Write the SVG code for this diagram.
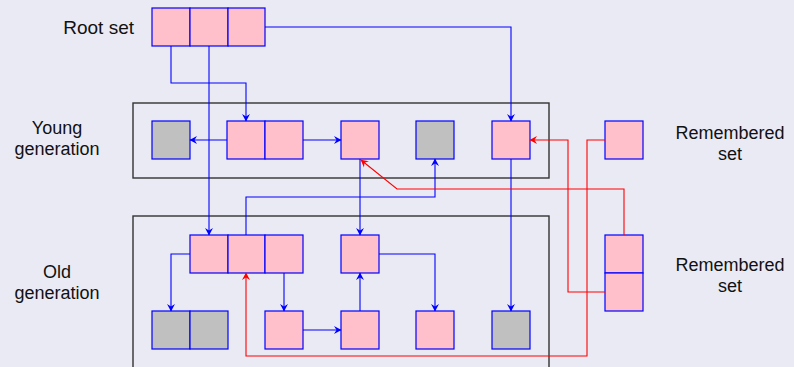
<svg xmlns="http://www.w3.org/2000/svg" width="794" height="367" viewBox="0 0 794 367">
<style>
.lbl{font-family:"Liberation Sans",Arial,sans-serif;font-size:18px;fill:#111;}
.p{fill:#ffc0cb;stroke:#0000ff;stroke-width:1.2;}
.g{fill:#c0c0c0;stroke:#0000ff;stroke-width:1.2;}
.frame{fill:none;stroke:#333;stroke-width:1.4;}
.b{fill:none;stroke:#0000ff;stroke-width:1.1;}
.r{fill:none;stroke:#ff0000;stroke-width:1.1;}
.b.a{marker-end:url(#ab);}
.r.a{marker-end:url(#ar);}
</style>
<defs>
<marker id="ab" viewBox="-8 -5 9 10" refX="0" refY="0" markerWidth="9" markerHeight="10" orient="auto" markerUnits="userSpaceOnUse"><path d="M0.5,0 L-7,-4 L-4.5,0 L-7,4 Z" fill="#0000ff"/></marker>
<marker id="ar" viewBox="-8 -5 9 10" refX="0" refY="0" markerWidth="9" markerHeight="10" orient="auto" markerUnits="userSpaceOnUse"><path d="M0.5,0 L-7,-4 L-4.5,0 L-7,4 Z" fill="#ff0000"/></marker>
</defs>
<rect x="0" y="0" width="794" height="367" fill="#eaeaf5"/>

<g id="labels">
<text class="lbl" x="134" y="34" text-anchor="end" style="font-size:19px">Root set</text>
<text class="lbl" x="57" y="134" text-anchor="middle">Young</text>
<text class="lbl" x="57" y="155" text-anchor="middle">generation</text>
<text class="lbl" x="57" y="278" text-anchor="middle">Old</text>
<text class="lbl" x="57" y="299" text-anchor="middle">generation</text>
<text class="lbl" x="730" y="139" text-anchor="middle">Remembered</text>
<text class="lbl" x="730" y="160" text-anchor="middle">set</text>
<text class="lbl" x="730" y="271" text-anchor="middle">Remembered</text>
<text class="lbl" x="730" y="292" text-anchor="middle">set</text>
</g>

<g id="young-frame"><rect class="frame" x="133" y="103" width="416" height="75"/></g>
<g id="old-frame"><rect class="frame" x="133" y="216" width="416" height="170"/></g>

<g id="root-set">
<rect class="p" x="152" y="8" width="38" height="38"/>
<rect class="p" x="190" y="8" width="38" height="38"/>
<rect class="p" x="228" y="8" width="37" height="38"/>
</g>

<g id="y-gray1"><rect class="g" x="152" y="121" width="38" height="38"/></g>
<g id="y-pair"><rect class="p" x="227" y="121" width="38" height="38"/><rect class="p" x="265" y="121" width="38" height="38"/></g>
<g id="y-pink1"><rect class="p" x="341" y="121" width="38" height="38"/></g>
<g id="y-gray2"><rect class="g" x="416" y="121" width="38" height="38"/></g>
<g id="y-pink2"><rect class="p" x="492" y="121" width="38" height="38"/></g>
<g id="rs-young"><rect class="p" x="605" y="121" width="38" height="38"/></g>

<g id="o-triple"><rect class="p" x="190" y="235" width="38" height="38"/><rect class="p" x="228" y="235" width="37" height="38"/><rect class="p" x="265" y="235" width="38" height="38"/></g>
<g id="o-pink1"><rect class="p" x="341" y="235" width="38" height="38"/></g>
<g id="o-graypair"><rect class="g" x="152" y="311" width="38" height="38"/><rect class="g" x="190" y="311" width="38" height="38"/></g>
<g id="o-pink2"><rect class="p" x="265" y="311" width="38" height="38"/></g>
<g id="o-pink3"><rect class="p" x="341" y="311" width="38" height="38"/></g>
<g id="o-pink4"><rect class="p" x="416" y="311" width="38" height="38"/></g>
<g id="o-gray"><rect class="g" x="492" y="311" width="38" height="38"/></g>
<g id="rs-old"><rect class="p" x="605" y="235" width="38" height="38"/><rect class="p" x="605" y="273" width="38" height="38"/></g>

<g id="connectors">
<path class="b a" d="M171,46 V83 H246 V121"/>
<path class="b a" d="M209,46 V235"/>
<path class="b a" d="M265,27 H511 V121"/>
<path class="b a" d="M227,140 H190"/>
<path class="b a" d="M303,140 H341"/>
<path class="b a" d="M360,159 V235"/>
<path class="b a" d="M246,235 V197 H435 V159"/>
<path class="b a" d="M511,159 V311"/>
<path class="b a" d="M190,254 H171 V311"/>
<path class="b a" d="M284,273 V311"/>
<path class="b a" d="M303,330 H341"/>
<path class="b a" d="M360,311 V273"/>
<path class="b a" d="M379,254 H435 V311"/>
<path class="r a" d="M605,140 H587 V356 H246 V273"/>
<path class="r a" d="M624,235 V189 H397 L361,160"/>
<path class="r a" d="M605,292 H568 V140 H530"/>
</g>
</svg>
